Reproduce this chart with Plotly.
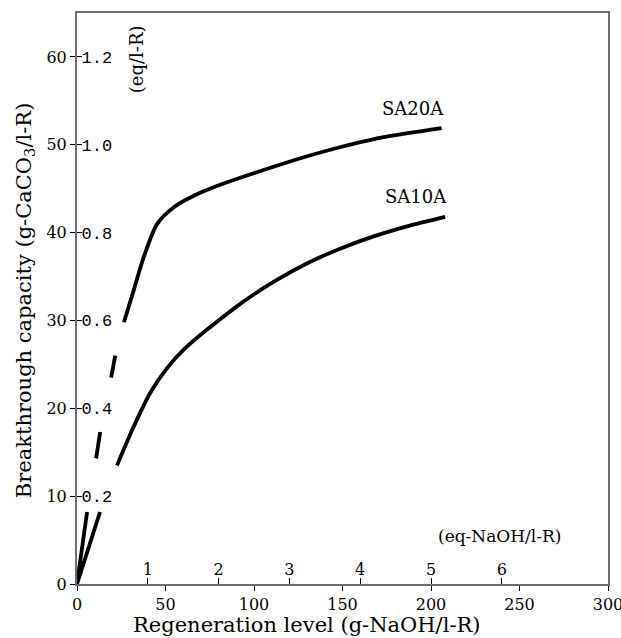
import plotly.graph_objects as go

# Data
sa20a_x = [0, 5.7, None, 10.8, 13.1, None, 19.3, 21.6, None, 26.5, 32, 37.7, 45.3, 54.7, 66, 79, 93, 111, 131, 149, 168, 188, 206]
sa20a_y = [0, 8.2, None, 14.3, 17.3, None, 23.5, 26.0, None, 29.8, 33.4, 37.2, 41.0, 42.9, 44.2, 45.3, 46.3, 47.5, 48.75, 49.75, 50.65, 51.35, 51.9]
sa10a_x = [0, 13, None, 22.6, 32, 41.5, 51, 60.4, 70, 79.4, 93, 111, 131, 149, 168, 188, 208]
sa10a_y = [0, 8.2, None, 13.5, 17.9, 21.8, 24.6, 26.7, 28.4, 29.9, 32.0, 34.4, 36.6, 38.2, 39.6, 40.8, 41.8]

x_ticks = [0, 50, 100, 150, 200, 250, 300]
y_ticks = [0, 10, 20, 30, 40, 50, 60]
x_eq_ticks = [1, 2, 3, 4, 5, 6]
y_eq_ticks = [0.2, 0.4, 0.6, 0.8, 1.0, 1.2]
y_eq_labels = ["0.2", "0.4", "0.6", "0.8", "1.0", "1.2"]

labels = [("SA20A", 206, 51.8), ("SA10A", 208, 41.8)]

SERIF = "DejaVu Serif"
MONO = "Liberation Mono"
AXC = "#6e6e6e"

fig = go.Figure()
fig.add_trace(go.Scatter(x=sa20a_x, y=sa20a_y, mode="lines", line=dict(color="black", width=3.8, shape="spline", smoothing=0.8),
                         connectgaps=False, showlegend=False, hoverinfo="skip"))
fig.add_trace(go.Scatter(x=sa10a_x, y=sa10a_y, mode="lines", line=dict(color="black", width=3.8, shape="spline", smoothing=0.8),
                         connectgaps=False, showlegend=False, hoverinfo="skip"))
# invisible trace to activate secondary axes
fig.add_trace(go.Scatter(x=[None], y=[None], xaxis="x2", yaxis="y2", showlegend=False))

for name, lx, ly in labels:
    fig.add_annotation(x=lx, y=ly, text=name, showarrow=False, xanchor="right", yanchor="bottom",
                       yshift=8, xshift=4, font=dict(family=SERIF, size=18, color="black"))

fig.add_annotation(x=0.795, y=0.084, xref="paper", yref="paper", text="(eq-NaOH/l-R)", showarrow=False,
                   xanchor="center", yanchor="middle",
                   font=dict(family=SERIF, size=17, color="black"))
fig.add_annotation(x=0.111, y=0.919, xref="paper", yref="paper", text="(eq/l-R)", showarrow=False,
                   xanchor="center", yanchor="middle",
                   textangle=-90, font=dict(family=SERIF, size=18, color="black"))
# axis titles
fig.add_annotation(x=0.433, y=-0.072, xref="paper", yref="paper", text="Regeneration level (g-NaOH/l-R)",
                   showarrow=False, xanchor="center", yanchor="middle",
                   font=dict(family=SERIF, size=21, color="black"))
fig.add_annotation(x=-0.098, y=0.497, xref="paper", yref="paper",
                   text="Breakthrough capacity (g-CaCO<sub>3</sub>/l-R)",
                   showarrow=False, xanchor="center", yanchor="middle", textangle=-90,
                   font=dict(family=SERIF, size=21, color="black"))

fig.update_layout(
    width=621, height=638,
    margin=dict(l=77, r=13, t=13, b=54, autoexpand=False),
    paper_bgcolor="white", plot_bgcolor="white",
    xaxis=dict(range=[0, 300], tickvals=x_ticks, showgrid=False, zeroline=False,
               showline=True, mirror=True, linecolor=AXC, linewidth=2, automargin=False,
               ticks="outside", ticklen=5, tickcolor="black", ticklabeloverflow="allow",
               tickfont=dict(family=SERIF, size=16, color="black")),
    yaxis=dict(range=[0, 65], tickvals=y_ticks, showgrid=False, zeroline=False,
               showline=True, mirror=True, linecolor=AXC, linewidth=2, automargin=False,
               ticks="outside", ticklen=5, tickcolor="black",
               tickfont=dict(family=SERIF, size=16, color="black")),
    xaxis2=dict(range=[0, 7.5], overlaying="x", side="bottom", tickvals=x_eq_ticks,
                ticks="inside", ticklen=6, tickcolor="black", ticklabelposition="inside",
                showgrid=False, zeroline=False, showline=False, automargin=False,
                tickfont=dict(family=SERIF, size=16, color="black")),
    yaxis2=dict(range=[0, 1.3], overlaying="y", side="left", tickvals=y_eq_ticks, ticktext=y_eq_labels,
                ticks="inside", ticklen=5, tickcolor="black", ticklabelposition="inside",
                showgrid=False, zeroline=False, showline=False, automargin=False,
                tickfont=dict(family=MONO, size=17, color="black")),
)

fig.write_html("out.html")
